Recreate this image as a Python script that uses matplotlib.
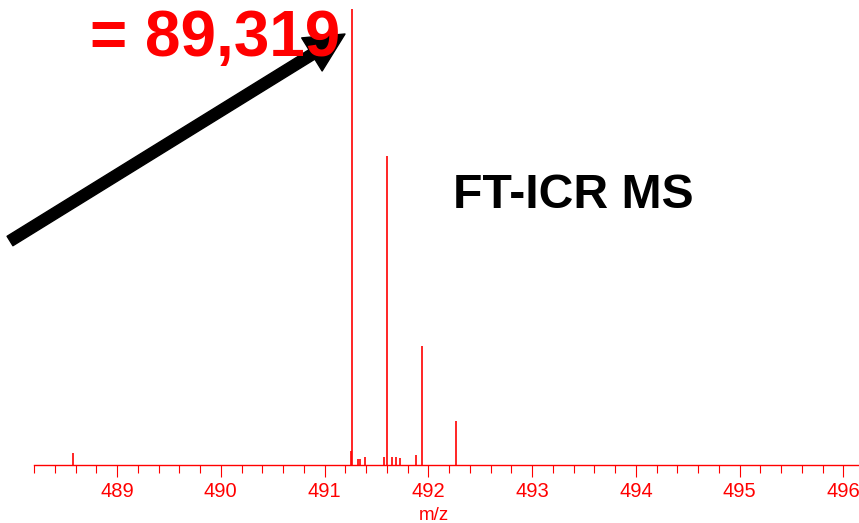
import matplotlib
matplotlib.use("Agg")
import matplotlib.pyplot as plt
from matplotlib.ticker import MultipleLocator

# peak list (m/z, relative intensity)
peak_mz = [488.58, 491.25, 491.266, 491.32, 491.34, 491.39, 491.57, 491.60,
           491.646, 491.685, 491.73, 491.88, 491.935, 492.27]
peak_int = [2.6, 3.1, 100.0, 1.3, 1.3, 1.7, 1.7, 67.8,
            1.7, 1.7, 1.5, 2.2, 26.0, 9.6]

W, H = 859, 523
RED = "#ff0000"
plt.rcParams['font.family'] = ['Liberation Sans', 'DejaVu Sans']


def main():
    fig = plt.figure(figsize=(W / 100, H / 100), dpi=100)
    ax = fig.add_axes([34 / W, (H - 465) / H, (W - 34) / W, (465 - 9) / H])

    ax.vlines(peak_mz, 0, peak_int, color=RED, lw=1.2, clip_on=False)
    ax.set_xlim(488.2, 496.15)
    ax.set_ylim(0, 100)

    for s in ["top", "right", "left"]:
        ax.spines[s].set_visible(False)
    ax.spines["bottom"].set_color(RED)
    ax.spines["bottom"].set_linewidth(1.0)
    ax.set_yticks([])
    ax.xaxis.set_major_locator(MultipleLocator(1))
    ax.xaxis.set_minor_locator(MultipleLocator(0.2))
    ax.tick_params(axis="x", which="major", length=8.6, width=0.8, color=RED,
                   labelcolor=RED, labelsize=14.5, pad=3.5)
    ax.tick_params(axis="x", which="minor", length=5.8, width=0.8, color=RED)

    fig.text(434 / W, 1 - 520 / H, "m/z", color=RED, fontsize=13.5,
             ha="center", va="baseline")
    fig.text(90 / W, 1 - 56 / H, "= 89,319", color=RED, fontsize=46,
             fontweight="bold", ha="left", va="baseline")
    fig.text(453 / W, 1 - 208 / H, "FT-ICR MS", color="black", fontsize=34.7,
             fontweight="bold", ha="left", va="baseline")

    ax.annotate("", xy=(345, H - 34), xytext=(10, H - 241),
                xycoords="figure pixels", textcoords="figure pixels",
                arrowprops=dict(arrowstyle="simple,head_length=28,head_width=28,tail_width=8",
                                mutation_scale=1, color="black", shrinkA=0, shrinkB=0))

    fig.savefig("out.png", dpi=100)


if __name__ == '__main__':
    main()
